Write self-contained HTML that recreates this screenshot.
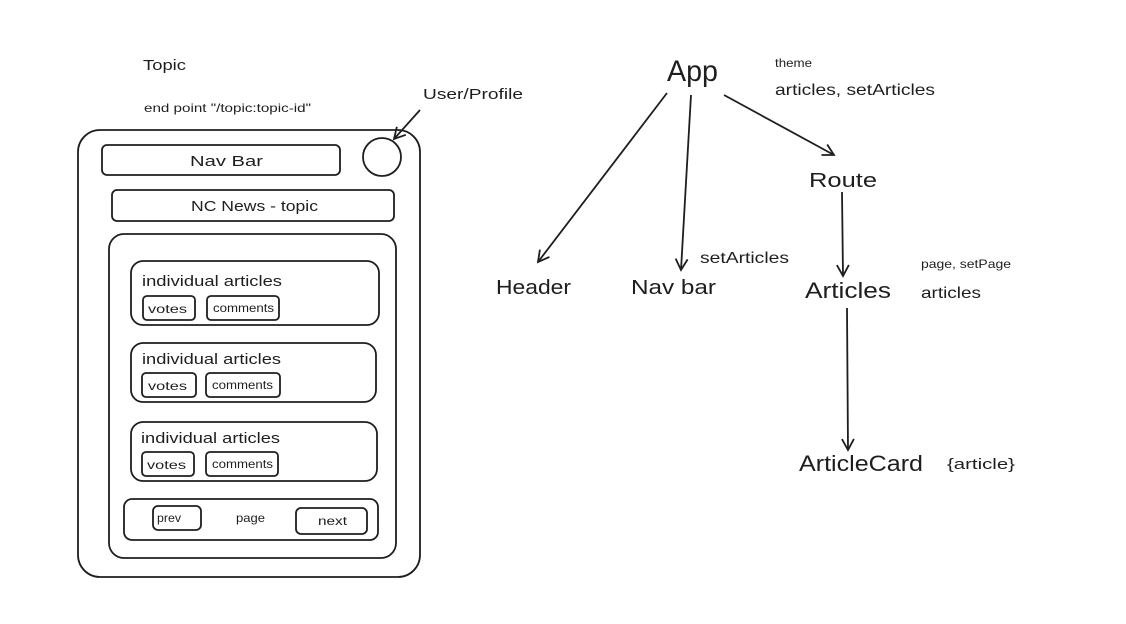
<!DOCTYPE html>
<html><head><meta charset="utf-8"><style>
html,body{margin:0;padding:0;background:#fff;}
svg{display:block;}
text{font-family:"Liberation Sans",sans-serif;fill:#1e1e1e;}
</style></head><body>
<svg width="1126" height="624" viewBox="0 0 1126 624" xmlns="http://www.w3.org/2000/svg">
<defs>
<marker id="ah" markerWidth="14" markerHeight="14" refX="12" refY="7" orient="auto" markerUnits="userSpaceOnUse">
<path d="M1,1 L12,7 L1,13" fill="none" stroke="#1e1e1e" stroke-width="1.8"/>
</marker>
</defs>
<g fill="none" stroke="#1e1e1e" stroke-width="1.8">
<rect x="78" y="130" width="342" height="447" rx="22"/>
<circle cx="382" cy="157" r="19"/>
<rect x="102" y="145" width="238" height="30" rx="5"/>
<rect x="112" y="190" width="282" height="31" rx="5"/>
<rect x="109" y="234" width="287" height="324" rx="15"/>
<rect x="131" y="261" width="248" height="64" rx="12"/>
<rect x="143" y="296" width="52" height="24" rx="4"/>
<rect x="207" y="296" width="72" height="24" rx="4"/>
<rect x="131" y="343" width="245" height="59" rx="12"/>
<rect x="142" y="373" width="54" height="24" rx="4"/>
<rect x="206" y="373" width="74" height="24" rx="4"/>
<rect x="131" y="422" width="246" height="59" rx="12"/>
<rect x="142" y="452" width="52" height="24" rx="4"/>
<rect x="206" y="452" width="72" height="24" rx="4"/>
<rect x="124" y="499" width="254" height="41" rx="8"/>
<rect x="153" y="506" width="48" height="24" rx="5"/>
<rect x="296" y="508" width="71" height="26" rx="5"/>
<line x1="420" y1="110" x2="394" y2="139" marker-end="url(#ah)"/>
<line x1="667" y1="93" x2="538" y2="262" marker-end="url(#ah)"/>
<line x1="691" y1="95" x2="681" y2="270" marker-end="url(#ah)"/>
<line x1="724" y1="95" x2="834" y2="155" marker-end="url(#ah)"/>
<line x1="842" y1="192" x2="843" y2="276" marker-end="url(#ah)"/>
<line x1="847" y1="308" x2="848" y2="450" marker-end="url(#ah)"/>
</g>
<g lengthAdjust="spacingAndGlyphs">
<text x="143" y="70" font-size="15" textLength="43" lengthAdjust="spacingAndGlyphs">Topic</text>
<text x="144" y="112" font-size="12" textLength="167" lengthAdjust="spacingAndGlyphs">end point "/topic:topic-id"</text>
<text x="423" y="99" font-size="15" textLength="100" lengthAdjust="spacingAndGlyphs">User/Profile</text>
<text x="190" y="166" font-size="15" textLength="73" lengthAdjust="spacingAndGlyphs">Nav Bar</text>
<text x="191" y="211" font-size="15" textLength="127" lengthAdjust="spacingAndGlyphs">NC News - topic</text>
<text x="142" y="286" font-size="15" textLength="140" lengthAdjust="spacingAndGlyphs">individual articles</text>
<text x="148" y="313" font-size="12" textLength="39" lengthAdjust="spacingAndGlyphs">votes</text>
<text x="213" y="312" font-size="12" textLength="61" lengthAdjust="spacingAndGlyphs">comments</text>
<text x="142" y="364" font-size="15" textLength="139" lengthAdjust="spacingAndGlyphs">individual articles</text>
<text x="148" y="390" font-size="12" textLength="39" lengthAdjust="spacingAndGlyphs">votes</text>
<text x="212" y="389" font-size="12" textLength="61" lengthAdjust="spacingAndGlyphs">comments</text>
<text x="141" y="443" font-size="15" textLength="139" lengthAdjust="spacingAndGlyphs">individual articles</text>
<text x="147" y="469" font-size="12" textLength="39" lengthAdjust="spacingAndGlyphs">votes</text>
<text x="212" y="468" font-size="12" textLength="61" lengthAdjust="spacingAndGlyphs">comments</text>
<text x="157" y="522" font-size="12" textLength="24" lengthAdjust="spacingAndGlyphs">prev</text>
<text x="236" y="522" font-size="12" textLength="29" lengthAdjust="spacingAndGlyphs">page</text>
<text x="318" y="525" font-size="12" textLength="29" lengthAdjust="spacingAndGlyphs">next</text>
<text x="667" y="81" font-size="30" textLength="51" lengthAdjust="spacingAndGlyphs">App</text>
<text x="775" y="67" font-size="12" textLength="37" lengthAdjust="spacingAndGlyphs">theme</text>
<text x="775" y="95" font-size="16" textLength="160" lengthAdjust="spacingAndGlyphs">articles, setArticles</text>
<text x="809" y="187" font-size="20" textLength="68" lengthAdjust="spacingAndGlyphs">Route</text>
<text x="496" y="294" font-size="20" textLength="75" lengthAdjust="spacingAndGlyphs">Header</text>
<text x="631" y="294" font-size="20" textLength="85" lengthAdjust="spacingAndGlyphs">Nav bar</text>
<text x="700" y="263" font-size="16" textLength="89" lengthAdjust="spacingAndGlyphs">setArticles</text>
<text x="805" y="298" font-size="22" textLength="86" lengthAdjust="spacingAndGlyphs">Articles</text>
<text x="921" y="268" font-size="12" textLength="90" lengthAdjust="spacingAndGlyphs">page, setPage</text>
<text x="921" y="298" font-size="16" textLength="60" lengthAdjust="spacingAndGlyphs">articles</text>
<text x="799" y="471" font-size="22" textLength="124" lengthAdjust="spacingAndGlyphs">ArticleCard</text>
<text x="947" y="469" font-size="15" textLength="68" lengthAdjust="spacingAndGlyphs">{article}</text>
</g>
</svg>
</body></html>
